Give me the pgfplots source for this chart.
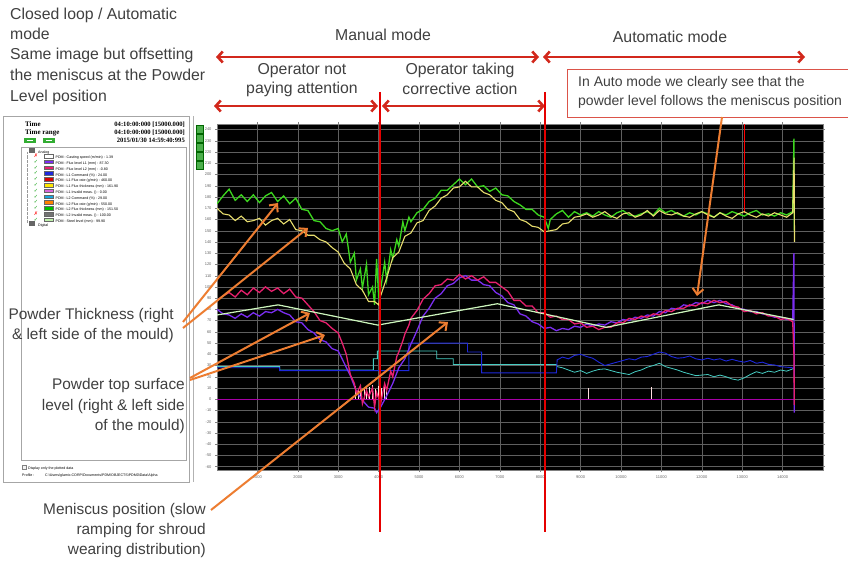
\documentclass[border=0pt]{standalone}
\usepackage{pgfplots}
\pgfplotsset{compat=1.18}
\usepackage{fontspec}
\setmainfont{Liberation Sans}
\newfontfamily\panelfont{Liberation Serif}
\newfontfamily\dejavu{DejaVu Sans}
\usetikzlibrary{arrows.meta}
\definecolor{slidetext}{RGB}{64,64,64}
\definecolor{redarr}{RGB}{210,40,28}
\definecolor{orarr}{RGB}{237,125,49}
\definecolor{cgreen}{RGB}{60,215,30}
\definecolor{cyellow}{RGB}{232,222,110}
\definecolor{cmag}{RGB}{232,32,110}
\definecolor{cpurp}{RGB}{122,45,240}
\definecolor{cblue}{RGB}{30,40,220}
\definecolor{ccyan}{RGB}{70,205,195}
\definecolor{csteel}{RGB}{190,240,170}
\definecolor{gridc}{RGB}{95,95,95}
\newcommand{\legitem}[4]{%
  \node[anchor=center, inner sep=0pt, font=\dejavu\fontsize{5}{5}\selectfont] at (36,#1) {#4};
  \fill[#2, draw=black!60, line width=0.2pt] (44.5,#1-1.8) rectangle (53,#1+1.8);
  \node[anchor=mid west, inner sep=0pt, font=\fontsize{3.6}{4}\selectfont] at (55.5,#1) {#3};}
\begin{document}
\begin{tikzpicture}[x=1pt,y=1pt]
\path[use as bounding box, fill=white] (0,0) rectangle (848,562);
% ---------------- left panel ----------------
\draw[black!35, line width=0.6pt] (3,80) rectangle (189,446);
\draw[black!30, line width=0.5pt] (193,80) -- (193,446);
\foreach \yy in {437,428,419,410,401}{\fill[green!55!black!70, draw=green!40!black] (196,\yy-8) rectangle (203,\yy);}
\node[anchor=mid west, font=\panelfont\bfseries\fontsize{7}{7}\selectfont, inner sep=0pt] at (25,438) {Time};
\node[anchor=mid west, font=\panelfont\bfseries\fontsize{7}{7}\selectfont, inner sep=0pt] at (25,430) {Time range};
\node[anchor=mid east, font=\panelfont\bfseries\fontsize{6.6}{7}\selectfont, inner sep=0pt] at (185,438) {04:10:00:000 [15000.000]};
\node[anchor=mid east, font=\panelfont\bfseries\fontsize{6.6}{7}\selectfont, inner sep=0pt] at (185,430) {04:10:00:000 [15000.000]};
\node[anchor=mid east, font=\panelfont\bfseries\fontsize{6.6}{7}\selectfont, inner sep=0pt] at (185,422) {2015/01/30 14:59:40:995};
\fill[green!60!black!80] (24,419) rectangle (36,424);
\fill[green!60!black!80] (43,419) rectangle (55,424);
\draw[white, line width=0.5pt] (27,421.5) -- (33,421.5);
\draw[white, line width=0.5pt] (46,421.5) -- (52,421.5);
\draw[black!35, line width=0.5pt, fill=white] (21,102) rectangle (186,415);
\draw[black!40, densely dotted, line width=0.3pt] (27,410) -- (27,339);
\fill[black!60] (29,409) rectangle (35,414);
\node[anchor=mid west, inner sep=0pt, font=\fontsize{3.6}{4}\selectfont] at (38,411.5) {Analog};
\legitem{406}{white}{PDM : Casting speed (m/min) : 1.39}{\color{red}✗}
\legitem{400.2}{cpurp}{PDM : Flux level L1 (mm) : 87.30}{\color{green!60!black}✓}
\legitem{394.4}{cmag}{PDM : Flux level L2 (mm) : -0.80}{\color{green!60!black}✓}
\legitem{388.6}{cblue}{PDM : L1 Command (\%) : 24.00}{\color{green!60!black}✓}
\legitem{382.8}{red!85!black}{PDM : L1 Flux rate (g/min) : 460.00}{\color{green!60!black}✓}
\legitem{377}{yellow!90!orange}{PDM : L1 Flux thickness (mm) : 161.90}{\color{green!60!black}✓}
\legitem{371.2}{violet!50!magenta!60}{PDM : L1 Invalid meas. () : 0.00}{\color{green!60!black}✓}
\legitem{365.4}{cyan!80!teal}{PDM : L2 Command (\%) : 29.00}{\color{green!60!black}✓}
\legitem{359.6}{orange}{PDM : L2 Flux rate (g/min) : 550.00}{\color{green!60!black}✓}
\legitem{353.8}{green!75!black}{PDM : L2 Flux thickness (mm) : 151.50}{\color{green!60!black}✓}
\legitem{348}{black!55}{PDM : L2 Invalid meas. () : 100.00}{\color{red}✗}
\legitem{342.2}{csteel}{PDM : Steel level (mm) : 99.90}{\color{green!60!black}✓}
\fill[black!60] (29,336) rectangle (35,341);
\node[anchor=mid west, inner sep=0pt, font=\fontsize{3.6}{4}\selectfont] at (38,338.5) {Digital};
\draw[black!50, fill=black!5, line width=0.3pt] (22,93) rectangle (26,97);
\node[anchor=mid west, inner sep=0pt, font=\fontsize{3.6}{4}\selectfont] at (28,95) {Display only the plotted data};
\node[anchor=mid west, inner sep=0pt, font=\fontsize{3.6}{4}\selectfont] at (22,88) {Profile :};
\node[anchor=mid west, inner sep=0pt, font=\fontsize{3.6}{4}\selectfont] at (45,88) {C:\textbackslash Users\textbackslash glamic.CORP\textbackslash Documents\textbackslash PDM\textbackslash OBJECTS\textbackslash PDM0\textbackslash Data\textbackslash Alpha};
% ---------------- chart ----------------
\begin{axis}[
  at={(217pt,92pt)}, anchor=south west,
  width=606pt, height=346pt, scale only axis,
  xmin=0, xmax=15000, ymin=-63, ymax=245,
  axis background/.style={fill=black},
  axis line style={black!50, line width=0.5pt},
  xtick={1000,2000,...,14000},
  ytick={-60,-50,...,240},
  grid=major, grid style={gridc, line width=0.35pt},
  tick align=outside, major tick length=2pt,
  tick style={black!50, line width=0.3pt},
  xticklabel style={font=\fontsize{4}{4}\selectfont, text=black!60},
  yticklabel style={font=\fontsize{4}{4}\selectfont, text=black!60},
  /pgf/number format/assume math mode=true,
  /pgf/number format/1000 sep={},
  scaled ticks=false,
  clip=true,
]
% zero line (L1 invalid meas.)
\addplot[color=violet!70!magenta, line width=0.6pt] coordinates {(0,0) (14272,0)};
% invalid meas spikes
\addplot[ycomb, color=pink!50!white, line width=0.7pt] coordinates {(3420,12) (3500,9) (3560,13) (3640,10) (3700,12) (3780,11) (3840,13) (3920,9) (3990,12) (4060,10) (4130,12) (4200,11) (9200,10) (10750,11)};
% L2 command (cyan)
\addplot[color=ccyan, line width=0.8pt] coordinates {(0,29) (1550,29) (1550,26) (3870,26) (3870,36) (3970,36) (3970,43) (5440,43) (5440,36) (5850,36) (5850,31) (8400,31)
 (8420,29) (8550,28) (8700,26) (8850,24) (9000,25.5) (9150,23) (9300,25) (9450,26.5) (9600,27) (9750,25.5) (9900,24) (10050,23) (10200,22) (10350,24.5) (10500,26) (10650,28.5) (10800,30) (10950,32) (11100,29) (11250,27.5) (11400,26) (11550,24) (11700,22.5) (11850,21) (12000,21.5) (12150,22) (12300,20) (12450,21.5) (12600,20) (12750,18) (12900,17) (13050,19) (13200,22) (13350,24.5) (13500,23) (13650,25) (13800,24) (13950,26) (14100,25) (14250,27) (14272,28)};
% L1 command (blue)
\addplot[color=cblue, line width=0.9pt] coordinates {(0,28) (1550,28) (1550,25.5) (4750,25.5) (4750,50) (6200,50) (6200,42) (6550,42) (6550,23.5) (8400,23.5)
 (8420,35) (8550,37.5) (8700,36) (8850,39) (9000,40) (9150,38) (9300,36.5) (9450,33) (9600,30) (9750,31.5) (9900,33) (10050,34.5) (10200,36) (10350,35) (10500,37.5) (10650,38) (10800,40) (10950,42) (11100,41) (11250,38) (11400,36.5) (11550,37) (11700,38.5) (11850,36) (12000,35) (12150,36.5) (12300,35) (12450,36) (12600,34) (12750,35.5) (12900,34) (13050,33) (13200,34.5) (13350,32) (13500,33) (13650,31) (13800,30.5) (13950,29) (14100,28.5) (14250,28) (14272,27)};
% red flux-rate spike
\addplot[color=red, line width=0.5pt] coordinates {(13040,245) (13040,166)};
% L2 flux thickness (green)
\addplot[color=cgreen, line width=1.3pt] coordinates {(0,174) (150,181) (300,187) (450,177) (600,182) (750,176) (900,182) (1050,175) (1200,181) (1350,184) (1500,176) (1650,181) (1800,174) (1950,179) (2100,169) (2250,168) (2400,159) (2550,158) (2700,152) (2850,150) (3000,152) (3100,140) (3200,147) (3300,122) (3400,130) (3450,106) (3550,116) (3600,99) (3700,120) (3750,93) (3850,100) (3900,84) (3950,125) (4000,92) (4050,98) (4150,122) (4200,106) (4300,133) (4350,125) (4450,142) (4500,136) (4600,158) (4650,150) (4750,162) (4800,158) (4950,166) (5100,169) (5250,176) (5400,179) (5550,186) (5700,186) (5850,191) (6000,196) (6150,191) (6300,196) (6450,189) (6600,190) (6750,185) (6900,188) (7050,182) (7200,181) (7350,176) (7500,173) (7650,169) (7800,169) (7950,164) (8100,162) (8200,152) (8250,160) (8400,165) (8550,168) (8700,162) (8850,167) (9000,164) (9150,166) (9300,163) (9450,167) (9600,164) (9750,162) (9900,166) (10050,168) (10200,164) (10350,163) (10500,165) (10650,167) (10800,164) (10950,170) (11100,166) (11250,168) (11400,165) (11550,163) (11700,166) (11850,164) (12000,167) (12150,165) (12300,162) (12450,166) (12600,164) (12750,167) (12900,165) (13050,163) (13200,166) (13350,168) (13500,164) (13650,165) (13800,163) (13950,166) (14100,164) (14250,167) (14280,232) (14290,150)};
% L1 flux thickness (yellow)
\addplot[color=cyellow, line width=1.1pt] coordinates {(0,170) (150,165) (300,164) (450,159) (600,163) (750,158) (900,159) (1050,161) (1200,155) (1350,159) (1500,161) (1650,156) (1800,160) (1950,151) (2100,150) (2250,146) (2400,146) (2550,142) (2700,140) (2850,135) (3000,131) (3150,121) (3300,116) (3450,102) (3600,97) (3750,87) (3900,87) (4000,84) (4050,92) (4200,108) (4350,126) (4500,131) (4650,145) (4800,148) (4950,157) (5100,159) (5250,168) (5400,172) (5550,179) (5700,182) (5850,188) (6000,189) (6150,194) (6300,189) (6450,189) (6600,184) (6750,182) (6900,177) (7050,175) (7200,169) (7350,167) (7500,160) (7650,158) (7800,154) (7950,153) (8100,149) (8250,150) (8400,151) (8550,156) (8700,157) (8850,162) (9000,163) (9150,165) (9300,162) (9450,164) (9600,167) (9750,163) (9900,161) (10050,165) (10200,166) (10350,162) (10500,164) (10650,168) (10800,163) (10950,168) (11100,165) (11250,164) (11400,166) (11550,163) (11700,162) (11850,165) (12000,167) (12150,164) (12300,162) (12450,166) (12600,163) (12750,161) (12900,165) (13050,167) (13200,164) (13350,162) (13500,165) (13650,163) (13800,166) (13950,164) (14100,162) (14250,166) (14285,215) (14295,140)};
% Flux level L1 (purple)
\addplot[color=cpurp, line width=1.3pt] coordinates {(0,80) (150,76) (300,75) (450,72) (600,76) (750,73) (900,77) (1050,74) (1200,78) (1350,77) (1500,80) (1650,77) (1800,75) (1950,69) (2100,68) (2250,62) (2400,59) (2550,53) (2700,51) (2850,45) (3000,43) (3150,32) (3300,21) (3450,7) (3600,-1) (3750,-7) (3900,-8) (3950,-12) (4050,-7) (4200,3) (4350,14) (4500,28) (4650,36) (4800,49) (4950,61) (5100,74) (5250,81) (5400,90) (5550,94) (5700,101) (5850,103) (6000,108) (6150,110) (6300,106) (6450,106) (6600,102) (6750,101) (6900,95) (7050,92) (7200,86) (7350,84) (7500,76) (7650,74) (7800,69) (7950,67) (8100,63) (8250,64) (8400,61) (8550,63) (8700,62) (8850,65) (9000,64) (9150,67) (9300,65) (9450,67) (9600,66) (9750,69) (9900,68) (10050,71) (10200,70) (10350,73) (10500,72) (10650,75) (10800,74) (10950,78) (11100,77) (11250,81) (11400,80) (11550,84) (11700,83) (11850,86) (12000,85) (12150,88) (12300,86) (12450,88) (12600,85) (12750,84) (12900,81) (13050,80) (13200,78) (13350,78) (13500,76) (13650,75) (13800,73) (13950,73) (14100,71) (14250,71) (14280,130) (14290,-12)};
% Flux level L2 (magenta)
\addplot[color=cmag, line width=1.3pt] coordinates {(0,88) (150,92) (300,95) (450,91) (600,97) (750,93) (900,99) (1050,95) (1200,100) (1350,96) (1500,99) (1650,94) (1800,98) (1950,91) (2100,90) (2250,84) (2400,78) (2550,70) (2700,68) (2850,63) (3000,59) (3100,50) (3200,40) (3300,22) (3400,14) (3450,5) (3550,12) (3600,-4) (3700,8) (3750,2) (3850,10) (3900,-7) (3950,6) (4050,-4) (4150,14) (4200,8) (4300,25) (4350,20) (4450,38) (4500,42) (4600,52) (4650,58) (4750,66) (4800,72) (4950,79) (5100,89) (5250,94) (5400,101) (5550,102) (5700,107) (5850,106) (6000,111) (6150,107) (6300,110) (6450,106) (6600,109) (6750,104) (6900,104) (7050,100) (7200,96) (7350,88) (7500,88) (7650,83) (7800,83) (7950,77) (8100,77) (8250,73) (8400,74) (8550,71) (8700,71) (8850,67) (9000,68) (9150,64) (9300,65) (9450,62) (9600,64) (9750,64) (9900,68) (10050,68) (10200,72) (10350,71) (10500,74) (10650,73) (10800,76) (10950,75) (11100,79) (11250,78) (11400,81) (11550,81) (11700,84) (11850,83) (12000,86) (12150,85) (12300,88) (12450,86) (12600,87) (12750,83) (12900,82) (13050,78) (13200,79) (13350,76) (13500,77) (13650,74) (13800,74) (13950,71) (14100,72) (14250,69) (14280,40) (14290,-5)};
% Steel level
\addplot[color=csteel, line width=1.2pt] coordinates {(0,75) (1510,84) (3980,66) (6940,85) (9630,64) (12420,84) (14272,71)};
\addplot[color=white, line width=0.5pt, densely dotted] coordinates {(0,75) (1510,84) (3980,66) (6940,85) (9630,64) (12420,84) (14272,71)};
\end{axis}
% ---------------- slide annotations ----------------
\begin{scope}[font=\fontsize{15.8}{18}\selectfont, text=slidetext, inner sep=0pt]
\node[anchor=mid west] at (10,545) {Closed loop / Automatic};
\node[anchor=mid west] at (10,525) {mode};
\node[anchor=mid west] at (10,505) {Same image but offsetting};
\node[anchor=mid west] at (10,484) {the meniscus at the Powder};
\node[anchor=mid west] at (10,463) {Level position};
\node[anchor=mid] at (383,524) {Manual mode};
\node[anchor=mid] at (670,522) {Automatic mode};
\node[anchor=mid] at (302,490) {Operator not};
\node[anchor=mid] at (302,471) {paying attention};
\node[anchor=mid] at (460,490) {Operator taking};
\node[anchor=mid] at (460,470) {corrective action};
\end{scope}
\begin{scope}[font=\fontsize{15.4}{18}\selectfont, text=slidetext, inner sep=0pt]
\node[anchor=mid east] at (174,245) {Powder Thickness (right};
\node[anchor=mid east] at (174,225) {\& left side of the mould)};
\node[anchor=mid east] at (185,175) {Powder top surface};
\node[anchor=mid east] at (185,154) {level (right \& left side};
\node[anchor=mid east] at (185,134) {of the mould)};
\node[anchor=mid east] at (206,50) {Meniscus position (slow};
\node[anchor=mid east] at (206,30) {ramping for shroud};
\node[anchor=mid east] at (206,10) {wearing distribution)};
\end{scope}
% red mode arrows
\begin{scope}[redarr, line width=2.6pt, arrows={Straight Barb[length=5pt,width=11pt]-Straight Barb[length=5pt,width=11pt]}]
\draw (216,505) -- (539,505);
\draw (543,505) -- (805,505);
\draw (214,456) -- (378,456);
\draw (382,456) -- (545,456);
\end{scope}
\draw[red!90!black, line width=1.3pt] (380,470) -- (380,30);
\draw[red!90!black, line width=1.3pt] (545,470) -- (545,30);
% info box
\draw[redarr!80, line width=0.8pt, fill=white] (567,445) rectangle (849,493);
\node[anchor=mid west, inner sep=0pt, font=\fontsize{14}{16}\selectfont, text=slidetext] at (578,478) {In Auto mode we clearly see that the};
\node[anchor=mid west, inner sep=0pt, font=\fontsize{14}{16}\selectfont, text=slidetext] at (578,459) {powder level follows the meniscus position};
% orange arrows
\begin{scope}[orarr, line width=2pt, -{Straight Barb[length=6pt,width=11pt]}]
\draw (722,445) -- (697,266);
\draw (183,240) -- (278,359);
\draw (183,234) -- (308,334);
\draw (190,184) -- (310,249);
\draw (190,182) -- (325,227);
\draw (211,52) -- (448,240);
\end{scope}
\end{tikzpicture}
\end{document}
